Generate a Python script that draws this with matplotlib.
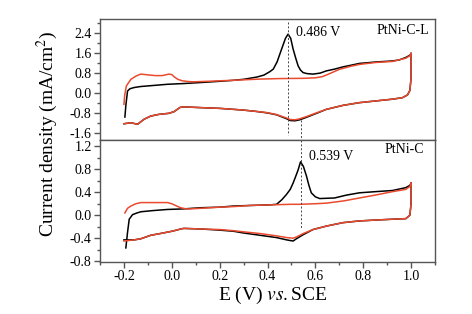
import matplotlib
matplotlib.use("Agg")
from matplotlib import pyplot as plt
from matplotlib.ticker import MultipleLocator

plt.rcParams["font.family"] = "Liberation Serif"
plt.rcParams["mathtext.fontset"] = "stix"
plt.rcParams["axes.unicode_minus"] = False

# PtNi-C-L (top panel)
ptl_k_fwd_x = [-0.196, -0.192, -0.185, -0.175, -0.157, -0.13, -0.08, -0.018, 0.05, 0.12, 0.2, 0.257, 0.3,
               0.355, 0.385, 0.41, 0.424, 0.44, 0.459, 0.475, 0.486, 0.497, 0.507, 0.518, 0.528, 0.538,
               0.549, 0.565, 0.59, 0.62, 0.646, 0.68, 0.715, 0.75, 0.784, 0.82, 0.853, 0.89, 0.922, 0.95,
               0.978, 0.995, 1.0]
ptl_k_fwd_y = [-0.97, -0.5, 0.08, 0.17, 0.22, 0.26, 0.3, 0.35, 0.38, 0.42, 0.47, 0.51, 0.55,
               0.64, 0.72, 0.86, 0.96, 1.25, 1.77, 2.2, 2.37, 2.2, 1.77, 1.4, 1.09, 0.92,
               0.82, 0.78, 0.76, 0.8, 0.89, 0.96, 1.05, 1.12, 1.19, 1.22, 1.25, 1.27, 1.29, 1.33,
               1.43, 1.52, 1.59]
ptl_k_rev_x = [1.0, 1.0, 0.995, 0.985, 0.964, 0.922, 0.853, 0.784, 0.715, 0.646, 0.605, 0.563, 0.535,
               0.515, 0.495, 0.48, 0.438, 0.397, 0.35, 0.3, 0.258, 0.2, 0.12, 0.05, 0.035, 0.023, 0.01,
               -0.012, -0.053, -0.088, -0.116, -0.143, -0.171, -0.2]
ptl_k_rev_y = [1.59, 0.6, 0.1, -0.08, -0.19, -0.25, -0.32, -0.39, -0.5, -0.66, -0.82, -0.98, -1.08,
               -1.12, -1.11, -1.04, -0.88, -0.8, -0.74, -0.69, -0.66, -0.62, -0.59, -0.56, -0.58, -0.66, -0.75,
               -0.82, -0.86, -0.93, -1.06, -1.26, -1.2, -1.24]
ptl_r_fwd_x = [-0.2, -0.197, -0.19, -0.171, -0.15, -0.13, -0.1, -0.07, -0.04, -0.012, 0.0, 0.009, 0.025,
               0.044, 0.07, 0.092, 0.15, 0.2, 0.257, 0.3, 0.37, 0.45, 0.55, 0.6, 0.63, 0.66, 0.7, 0.75,
               0.784, 0.853, 0.922, 0.978, 0.995, 1.0]
ptl_r_fwd_y = [-0.46, -0.1, 0.28, 0.55, 0.68, 0.76, 0.73, 0.7, 0.7, 0.76, 0.74, 0.66, 0.55,
               0.49, 0.46, 0.45, 0.47, 0.49, 0.51, 0.53, 0.56, 0.58, 0.59, 0.61, 0.66, 0.78, 0.95, 1.08,
               1.15, 1.23, 1.27, 1.4, 1.5, 1.59]
ptl_r_rev_x = ptl_k_rev_x
ptl_r_rev_y = [1.59, 0.6, 0.1, -0.08, -0.19, -0.25, -0.32, -0.39, -0.5, -0.66, -0.8, -0.95, -1.04,
               -1.08, -1.07, -1.01, -0.87, -0.79, -0.74, -0.69, -0.66, -0.62, -0.59, -0.56, -0.58, -0.66, -0.75,
               -0.82, -0.86, -0.93, -1.06, -1.26, -1.2, -1.24]

# PtNi-C (bottom panel)
pt_k_fwd_x = [-0.192, -0.185, -0.178, -0.164, -0.145, -0.129, -0.08, -0.018, 0.05, 0.12, 0.2, 0.258, 0.33,
              0.41, 0.438, 0.46, 0.479, 0.495, 0.507, 0.52, 0.528, 0.538, 0.55, 0.563, 0.573, 0.583, 0.6,
              0.618, 0.68, 0.73, 0.784, 0.85, 0.922, 0.978, 0.995, 1.0]
pt_k_fwd_y = [-0.57, -0.3, -0.07, 0.01, 0.04, 0.06, 0.08, 0.1, 0.11, 0.13, 0.14, 0.16, 0.17,
              0.18, 0.19, 0.27, 0.36, 0.45, 0.56, 0.7, 0.79, 0.93, 0.85, 0.68, 0.52, 0.39, 0.32,
              0.29, 0.3, 0.35, 0.39, 0.41, 0.43, 0.48, 0.52, 0.56]
pt_k_rev_x = [1.0, 1.0, 0.995, 0.978, 0.922, 0.85, 0.784, 0.715, 0.646, 0.59, 0.549, 0.521, 0.507, 0.48,
              0.438, 0.369, 0.3, 0.258, 0.2, 0.12, 0.05, 0.037, 0.02, 0.0, -0.036, -0.088, -0.129, -0.157, -0.2]
pt_k_rev_y = [0.56, 0.2, 0.0, -0.06, -0.07, -0.085, -0.1, -0.13, -0.19, -0.25, -0.34, -0.41, -0.45, -0.43,
              -0.39, -0.35, -0.31, -0.28, -0.26, -0.24, -0.23, -0.24, -0.26, -0.28, -0.31, -0.35, -0.41, -0.43, -0.43]
pt_r_fwd_x = [-0.196, -0.185, -0.171, -0.15, -0.129, -0.07, -0.018, 0.0, 0.02, 0.037, 0.06, 0.078, 0.12, 0.2,
              0.258, 0.33, 0.41, 0.5, 0.535, 0.6, 0.646, 0.72, 0.784, 0.85, 0.922, 0.978, 0.995, 1.0]
pt_r_fwd_y = [0.04, 0.12, 0.16, 0.2, 0.22, 0.22, 0.22, 0.2, 0.16, 0.13, 0.11, 0.11, 0.12, 0.14,
              0.15, 0.17, 0.18, 0.19, 0.19, 0.2, 0.21, 0.25, 0.3, 0.35, 0.41, 0.45, 0.5, 0.56]
pt_r_rev_x = pt_k_rev_x
pt_r_rev_y = [0.56, 0.2, 0.0, -0.06, -0.07, -0.085, -0.1, -0.13, -0.19, -0.25, -0.32, -0.38, -0.4, -0.39,
              -0.36, -0.32, -0.29, -0.27, -0.25, -0.24, -0.23, -0.24, -0.26, -0.28, -0.31, -0.35, -0.41, -0.43, -0.45]

RED = "#ea4a2e"
SPINE = "#555555"

fig = plt.figure(figsize=(4.72, 3.14), dpi=100)
ax1 = fig.add_axes([0.2119, 0.5541, 0.7097, 0.3854])
ax2 = fig.add_axes([0.2119, 0.1666, 0.7097, 0.3875])

ax1.plot(ptl_k_fwd_x, ptl_k_fwd_y, color="black", lw=1.1)
ax1.plot(ptl_k_rev_x, ptl_k_rev_y, color="black", lw=1.1)
ax1.plot(ptl_r_fwd_x, ptl_r_fwd_y, color=RED, lw=1.1)
ax1.plot(ptl_r_rev_x, ptl_r_rev_y, color=RED, lw=1.1)

ax2.plot(pt_k_fwd_x, pt_k_fwd_y, color="black", lw=1.1)
ax2.plot(pt_k_rev_x, pt_k_rev_y, color="black", lw=1.1)
ax2.plot(pt_r_fwd_x, pt_r_fwd_y, color=RED, lw=1.1)
ax2.plot(pt_r_rev_x, pt_r_rev_y, color=RED, lw=1.1)

# peak markers
dash = dict(color="#444444", lw=0.7, linestyle=(0, (2, 2)))
ax1.plot([0.486, 0.486], [2.85, -1.71], **dash)
ax1.plot([0.539, 0.539], [-1.07, -1.9], **dash)
ax2.plot([0.539, 0.539], [1.31, -0.24], **dash)

ax1.text(0.521, 2.45, "0.486 V", fontsize=10, va="center")
ax1.text(1.075, 2.53, "PtNi-C-L", fontsize=10, va="center", ha="right")
ax2.text(0.574, 1.03, "0.539 V", fontsize=10, va="center")
ax2.text(1.054, 1.14, "PtNi-C", fontsize=10, va="center", ha="right")

ax1.set_xlim(-0.3, 1.1)
ax2.set_xlim(-0.3, 1.1)
ax1.set_ylim(-1.895, 2.98)
ax2.set_ylim(-0.81, 1.31)

ax1.yaxis.set_major_locator(MultipleLocator(0.8))
ax1.yaxis.set_minor_locator(MultipleLocator(0.4))
ax2.yaxis.set_major_locator(MultipleLocator(0.4))
ax2.yaxis.set_minor_locator(MultipleLocator(0.2))
ax2.xaxis.set_major_locator(MultipleLocator(0.2))
ax2.xaxis.set_minor_locator(MultipleLocator(0.1))
ax1.yaxis.set_major_formatter(lambda v, p: f"{v:.1f}")
ax2.yaxis.set_major_formatter(lambda v, p: f"{v:.1f}")
ax2.xaxis.set_major_formatter(lambda v, p: f"{v:.1f}")

ax1.tick_params(axis="x", which="both", bottom=False, labelbottom=False)
for ax in (ax1, ax2):
    for s in ax.spines.values():
        s.set_color(SPINE)
        s.set_linewidth(1.0)
    ax.tick_params(which="major", length=4, width=1.0, color=SPINE, labelsize=10, pad=2)
    ax.tick_params(which="minor", length=2, width=1.0, color=SPINE)

fig.text(0.1, 0.573, "Current density (mA/cm$^{2}$)", rotation=90, fontsize=14,
         ha="center", va="center")
fig.text(0.577, 0.058, "E (V) $\\it{vs.}$SCE", fontsize=14, ha="center", va="center")

fig.savefig("out.png", dpi=100)
